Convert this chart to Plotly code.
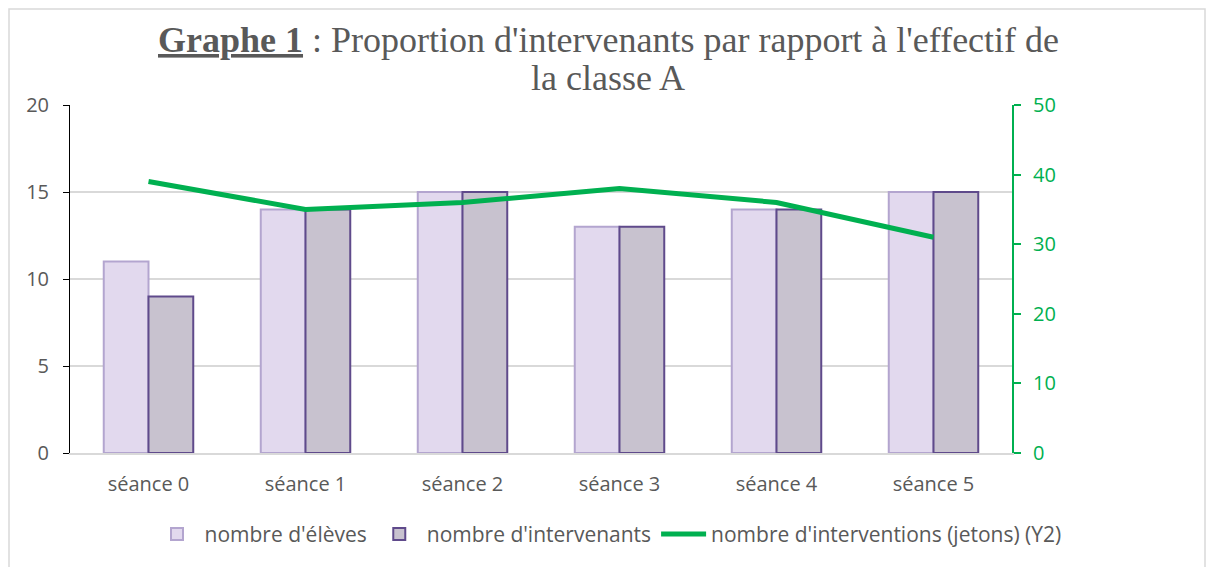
import plotly.graph_objects as go

categories = ["séance 0", "séance 1", "séance 2", "séance 3", "séance 4", "séance 5"]
eleves = [11, 14, 15, 13, 14, 15]
intervenants = [9, 14, 15, 13, 14, 15]
interventions = [39, 35, 36, 38, 36, 31]

title_line1 = "<b><u>Graphe 1</u></b> : Proportion d'intervenants par rapport à l'effectif de"
title_line2 = "la classe A"

# page body has an 8px margin, so the figure is drawn 8px right/down
W, H = 1206, 559
L, R, T, B = 62, 202, 97, 114

fig = go.Figure()
fig.add_trace(go.Bar(
    x=categories, y=eleves, name="nombre d'élèves",
    marker=dict(color="#E2D9EE", line=dict(color="#B3A5CF", width=2)),
))
fig.add_trace(go.Bar(
    x=categories, y=intervenants, name="nombre d'intervenants",
    marker=dict(color="#C8C2CF", line=dict(color="#5F4A8B", width=2)),
))
fig.add_trace(go.Scatter(
    x=categories, y=interventions, name="nombre d'interventions (jetons) (Y2)",
    mode="lines", line=dict(color="#00B050", width=5), yaxis="y2",
))

pw = W - L - R
ph = H - T - B
fig.add_shape(type="rect", xref="paper", yref="paper",
              x0=(1 - L) / pw, x1=(1197 - L) / pw,
              y0=-(B + 20) / ph, y1=1 + (T - 1) / ph,
              line=dict(color="#D9D9D9", width=1.5), fillcolor="rgba(0,0,0,0)", layer="below")

cx = (608 - 8 - L) / pw
for txt, ymid in ((title_line1, 40), (title_line2, 78)):
    fig.add_annotation(
        text=txt, xref="paper", yref="paper",
        x=cx, y=1 + (T - (ymid - 8)) / ph, xanchor="center", yanchor="middle",
        showarrow=False, align="center",
        font=dict(family="Liberation Serif", size=36, color="#595959"),
    )

fig.update_layout(
    width=W, height=H,
    margin=dict(l=L, r=R, t=T, b=B, autoexpand=False),
    paper_bgcolor="white", plot_bgcolor="white",
    barmode="group", bargap=0.43, bargroupgap=0,
    font=dict(family="Open Sans", color="#595959", size=20),
    xaxis=dict(showline=True, linecolor="#D9D9D9", linewidth=2, ticks="",
               tickfont=dict(size=20, color="#595959"), showgrid=False,
               ticklabelstandoff=12, automargin=False),
    yaxis=dict(range=[0, 20], dtick=5, showline=True, linecolor="black", linewidth=1,
               ticks="outside", ticklen=6, tickcolor="black", gridcolor="#D9D9D9", gridwidth=1.5,
               tickfont=dict(size=20, color="#595959"), zeroline=False,
               ticklabelstandoff=10, automargin=False),
    yaxis2=dict(range=[0, 50], dtick=10, overlaying="y", side="right", showline=True,
                linecolor="#00B050", linewidth=2, ticks="outside", ticklen=7, tickcolor="#00B050",
                tickwidth=2, showgrid=False, zeroline=False,
                tickfont=dict(size=20, color="#00B050"), ticklabelstandoff=8, automargin=False),
    legend=dict(orientation="h", x=cx, xanchor="center", y=-0.175, yanchor="top",
                font=dict(size=21, color="#595959"), traceorder="normal", itemwidth=45),
)

fig.write_html("out.html")
